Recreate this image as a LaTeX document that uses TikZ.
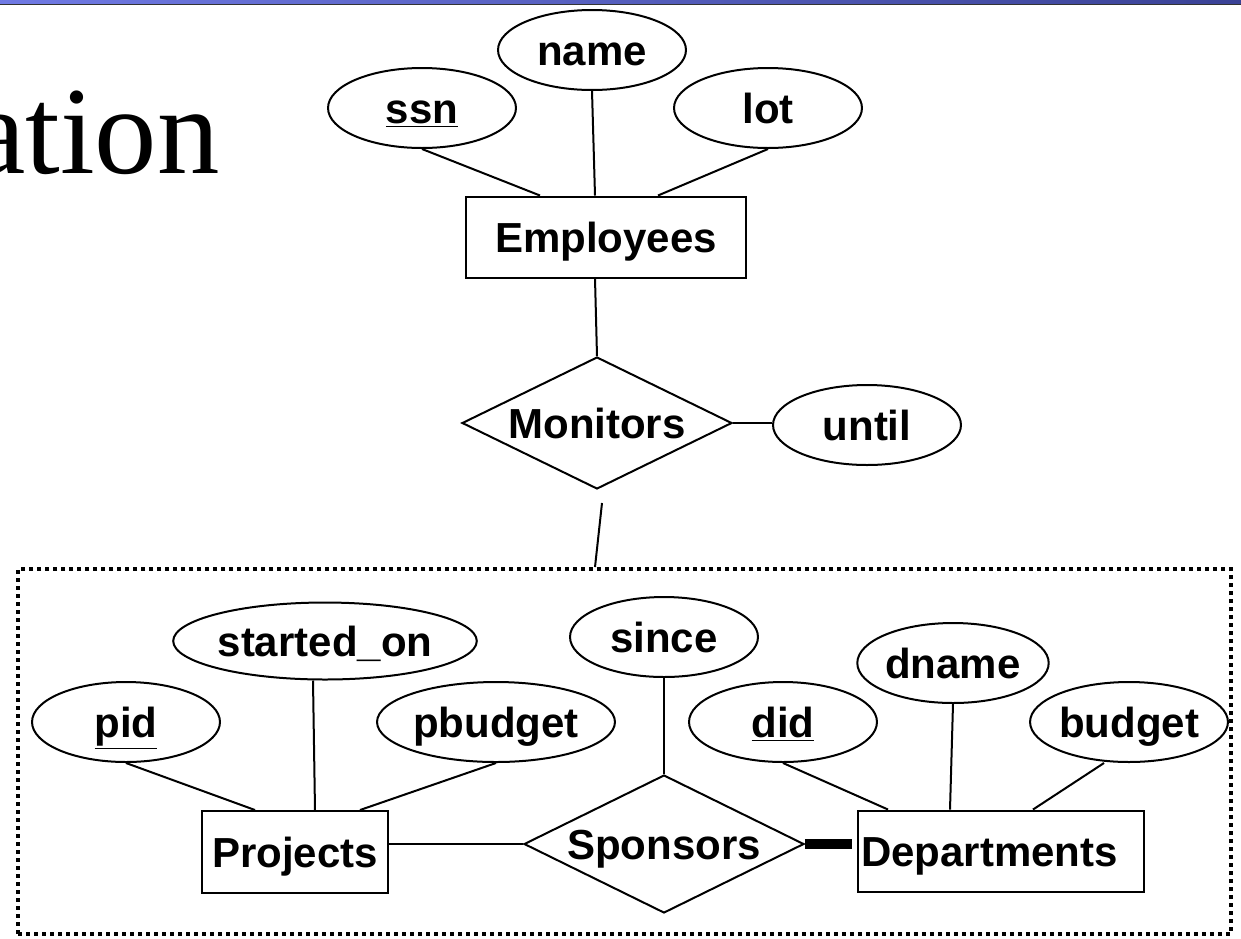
\documentclass[tikz,border=0pt]{standalone}
\usepackage{fontspec}
\setmainfont{Liberation Sans}
\newfontfamily\titlefont{Liberation Serif}
\usepackage{tikz}
\usetikzlibrary{shapes.geometric,arrows.meta}

\definecolor{barlight}{RGB}{112,122,228}
\definecolor{bardark}{RGB}{58,66,150}

\begin{document}
\begin{tikzpicture}[x=0.02cm, y=-0.02cm]
	\tikzstyle{attr} = [ellipse, draw=black, line width=0.04cm, minimum width=3.76cm, minimum height=1.6cm, inner sep=0pt]
	\tikzstyle{entity} = [rectangle, draw=black, line width=0.04cm, minimum height=1.62cm, inner sep=0pt]
	\tikzstyle{relation} = [diamond, draw=black, line width=0.04cm, inner sep=0pt, aspect=2]
	\tikzstyle{link} = [line width=0.04cm]
	\tikzset{every node/.append style={font=\bfseries\fontsize{23.9}{28}\selectfont, text height=17.1pt, text depth=0pt}}

	\useasboundingbox (0,0) rectangle (1241,938);

%----------slide header------------------------------
	\fill[left color=barlight, right color=bardark] (0,0) rectangle (1241,4);
	\draw[line width=0.03cm, black!80] (0,4.5) -- (1241,4.5);
	\node[anchor=base east, inner sep=0pt, font=\titlefont\fontsize{71}{71}\selectfont] (title) at (220,173) {ation};

%----------Employees------------------------------
	\node[attr] (ssn) at (422,108) {\underline{ssn}};
	\node[attr] (name) at (592,50) {name};
	\node[attr] (lot) at (768,108) {lot};
	\node[entity, minimum width=5.6cm] (emp) at (606,237) {Employees};

	\draw[link] (ssn.south) -- ([xshift=-1.32cm]emp.north);
	\draw[link] (name.south) -- ([xshift=-0.22cm]emp.north);
	\draw[link] (lot.south) -- ([xshift=1.04cm]emp.north);

%----------Monitors------------------------------
	\node[relation, minimum width=5.4cm, minimum height=2.64cm] (mon) at (597,423) {Monitors};
	\node[attr] (until) at (867,425) {until};

	\draw[link] ([xshift=-0.22cm]emp.south) -- (mon.north);
	\draw[link] (mon.east) -- (mon.east -| until.west);

%----------aggregate------------------------------
	\node[draw=black, line width=0.08cm, dash pattern=on 0.08cm off 0.08cm, minimum width=24.26cm, minimum height=7.3cm, inner sep=0pt] (agg) at (624.5,751.5) {};

	\draw[link] ([xshift=0.1cm, yshift=-0.26cm]mon.south) -- ([xshift=-0.59cm]agg.north);

%----------Sponsors------------------------------
	\node[attr] (since) at (664,637) {since};
	\node[relation, minimum width=5.6cm, minimum height=2.76cm] (spons) at (664,844) {Sponsors};
	\draw[link] (since.south) -- (spons.north);

	\node[attr, minimum width=4.94cm, minimum height=1.54cm] (started) at (325,641) {started\_on};
	\node[attr] (pid) at (126,722) {\underline{pid}};
	\node[attr, minimum width=4.76cm] (pbudget) at (496,722) {pbudget};
	\node[entity, minimum width=3.74cm, minimum height=1.64cm] (proj) at (295,852) {Projects};

	\draw[link] (pid.south) -- ([xshift=-0.8cm]proj.north);
	\draw[link] ([xshift=-0.24cm]started.south) -- ([xshift=0.4cm]proj.north);
	\draw[link] (pbudget.south) -- ([xshift=1.3cm]proj.north);

	\node[attr] (did) at (783,722) {\underline{did}};
	\node[attr] (dname) at (953,663) {dname};
	\node[attr] (budget) at (1129,722) {budget};
	\node[entity, text width=5.6cm, align=left, inner xsep=0.06cm] (dept) at (1001,851) {Departments};

	\draw[link] (did.south) -- ([xshift=-2.26cm]dept.north);
	\draw[link] (dname.south) -- ([xshift=-1.02cm]dept.north);
	\draw[link] ([xshift=-0.5cm]budget.south) -- ([xshift=0.64cm]dept.north);

	\draw[link] (spons.west -| proj.east) -- (spons.west);
	\draw[line width=0.2cm, shorten >=0.1cm] (spons.east) -- (spons.east -| dept.west);

\end{tikzpicture}
\end{document}
